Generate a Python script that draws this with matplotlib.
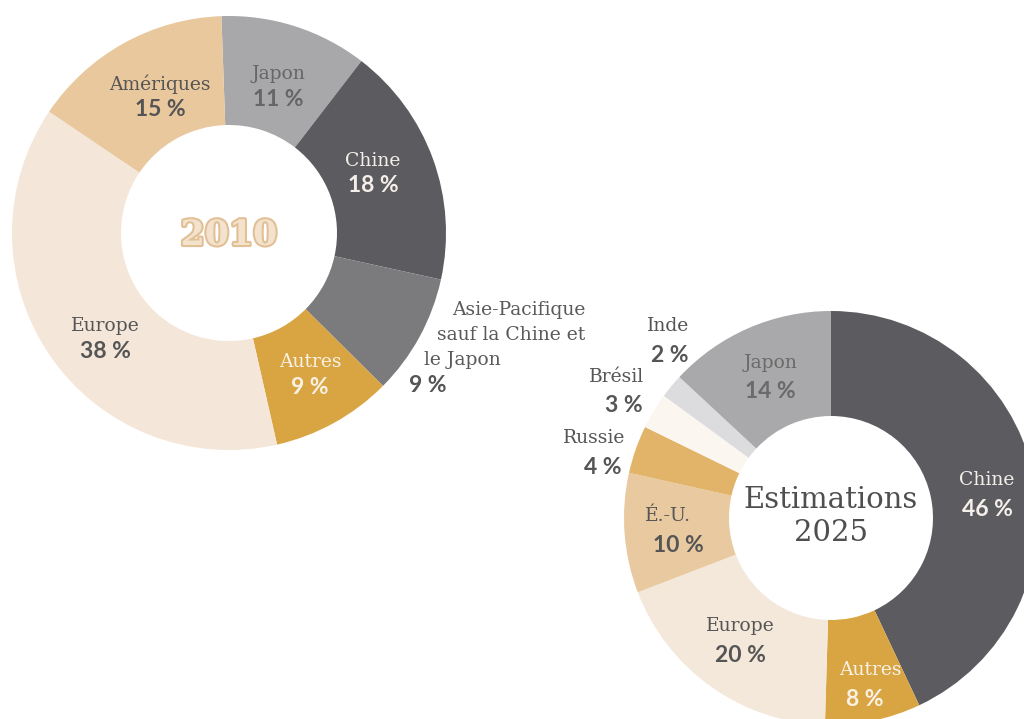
import matplotlib.pyplot as plt
import matplotlib.patheffects as pe

W, H = 1024, 719

# 2010 shares
labels_2010 = ['Japon', 'Chine', 'Asie-Pacifique\nsauf la Chine et\nle Japon', 'Autres', 'Europe', 'Amériques']
values_2010 = [11, 18, 9, 9, 38, 15]
colors_2010 = ['#a8a7a9', '#5c5b60', '#7b7a7d', '#d9a543', '#f4e7d9', '#e9c89e']

# 2025 estimates
labels_2025 = ['Chine', 'Autres', 'Europe', 'É.-U.', 'Russie', 'Brésil', 'Inde', 'Japon']
values_2025 = [46, 8, 20, 10, 4, 3, 2, 14]
colors_2025 = ['#5c5b60', '#d9a543', '#f4e8da', '#e9c9a0', '#e2b469', '#fbf6ef', '#dcdcde', '#a9a8aa']

# label anchor points in pixels (x, y of name line), text colour
pos_2010 = [(278, 74), (373, 161), None, (310, 362), (105, 326), (160, 84)]
txt_2010 = ['#666666', '#f4efe8', '#5a5a5a', '#f8f1e4', '#555555', '#555555']
pos_2025 = [(987, 480), (870, 670), (740, 626), (668, 516), (594, 438), (617, 377), (668, 326), (770, 363)]
txt_2025 = ['#f4efe8', '#f8f1e4', '#555555', '#555555', '#555555', '#555555', '#555555', '#6a6a6a']
pct_dx_2025 = [0, -5, 0, 10, 9, 7, 2, 0]

name_font = 'DejaVu Serif'
pct_font = 'Lato'
NAME_FS = 13.5
PCT_FS = 16.5


def Y(y):
    return H - y


fig = plt.figure(figsize=(W / 100, H / 100), dpi=100)
ax = fig.add_axes([0, 0, 1, 1])

ax.pie(values_2010, colors=colors_2010, startangle=92, counterclock=False,
       center=(229, Y(233)), radius=217,
       wedgeprops=dict(width=109, linewidth=0))
ax.pie(values_2025, colors=colors_2025, startangle=90, counterclock=False,
       center=(831, Y(518)), radius=207,
       wedgeprops=dict(width=105, linewidth=0))

ax.set_xlim(0, W)
ax.set_ylim(0, H)
ax.set_aspect('equal')
ax.axis('off')

for lab, v, p, c in zip(labels_2010, values_2010, pos_2010, txt_2010):
    if p is None:
        continue
    ax.text(p[0], Y(p[1]), lab, ha='center', va='center', fontsize=NAME_FS,
            family=name_font, color=c)
    ax.text(p[0], Y(p[1] + 25), f'{v} %', ha='center', va='center', fontsize=PCT_FS,
            family=pct_font, weight='bold', color=c)

# Asie-Pacifique label outside the ring
ap_lines = labels_2010[2].split('\n')
ax.text(585, Y(310), ap_lines[0], ha='right', va='center', fontsize=NAME_FS, family=name_font, color='#5a5a5a')
ax.text(585, Y(335), ap_lines[1], ha='right', va='center', fontsize=NAME_FS, family=name_font, color='#5a5a5a')
ax.text(424, Y(360), ap_lines[2], ha='left', va='center', fontsize=NAME_FS, family=name_font, color='#5a5a5a')
ax.text(409, Y(385), f'{values_2010[2]} %', ha='left', va='center', fontsize=PCT_FS,
        family=pct_font, weight='bold', color='#555555')

for lab, v, p, c, dx in zip(labels_2025, values_2025, pos_2025, txt_2025, pct_dx_2025):
    ax.text(p[0], Y(p[1]), lab, ha='center', va='center', fontsize=NAME_FS,
            family=name_font, color=c)
    ax.text(p[0] + dx, Y(p[1] + 29), f'{v} %', ha='center', va='center', fontsize=PCT_FS,
            family=pct_font, weight='bold', color=c)

# centre titles
ax.text(229, Y(235), '2010', ha='center', va='center', fontsize=25, family=name_font,
        weight='bold', color='#f3e2cc',
        path_effects=[pe.withStroke(linewidth=3, foreground='#e2c096')])
ax.text(831, Y(500), 'Estimations', ha='center', va='center', fontsize=21,
        family=name_font, color='#4f4f4f')
ax.text(831, Y(533), '2025', ha='center', va='center', fontsize=21,
        family=name_font, color='#4f4f4f')

fig.savefig('out.png', dpi=100, facecolor='white')
